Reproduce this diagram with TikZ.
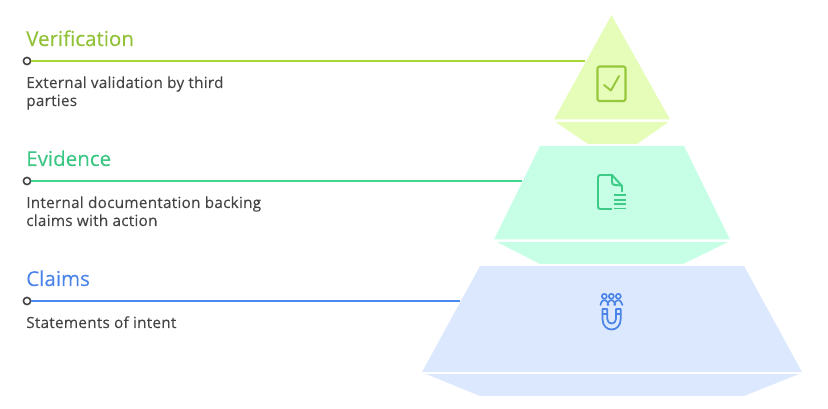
\documentclass[tikz,border=0pt]{standalone}
\usepackage{fontspec}
\setmainfont{Open Sans}[FakeBold=0.15]
\newfontfamily\descfont{Open Sans}[FakeBold=0.15,LetterSpace=1.6]
\definecolor{vfill}{HTML}{E6FDB9}
\definecolor{vline}{HTML}{A5D833}
\definecolor{vtext}{HTML}{90C136}
\definecolor{vicon}{HTML}{97C83C}
\definecolor{efill}{HTML}{C6FFE5}
\definecolor{eline}{HTML}{3FD58F}
\definecolor{etext}{HTML}{3CC683}
\definecolor{eicon}{HTML}{3ECB88}
\definecolor{cfill}{HTML}{DCE8FE}
\definecolor{cline}{HTML}{4B88F0}
\definecolor{ctext}{HTML}{4B84E8}
\definecolor{dtext}{HTML}{444444}
\tikzset{
  px/.style={x=0.75pt,y=-0.75pt},
  dotnode/.style={circle,draw=dtext,fill=white,line width=1.2pt,minimum size=5.4pt,inner sep=0pt},
  leader/.style={line width=1.65pt},
  titletext/.style={anchor=base west,inner sep=0pt,font=\fontsize{15.4}{18}\selectfont},
  desctext/.style={anchor=base west,inner sep=0pt,text=dtext,font=\descfont\fontsize{11.5}{14}\selectfont,align=left},
  icon/.style={line width=1.45pt,line cap=round,line join=round},
}
\begin{document}
\begin{tikzpicture}[px]
\useasboundingbox (0,0) rectangle (828,409);
% pyramid
\fill[vfill] (611.5,15) -- (670,119.5) -- (554,119.5) -- cycle;
\fill[vfill] (555.5,122) -- (668.5,122) -- (637,144) -- (588,144) -- cycle;
\fill[efill] (540,146) -- (684,146) -- (730,239.5) -- (494,239.5) -- cycle;
\fill[efill] (497,242) -- (728,242) -- (683,264) -- (540,264) -- cycle;
\fill[cfill] (480,266) -- (744,266) -- (802,372) -- (422,372) -- cycle;
\fill[cfill] (426,374) -- (799,374) -- (744,396) -- (480,396) -- cycle;
% leaders
\node[dotnode] (d1) at (27,61) {};
\node[dotnode] (d2) at (27,181) {};
\node[dotnode] (d3) at (27,301) {};
\coordinate (e1) at (585,61);
\coordinate (e2) at (522,181);
\coordinate (e3) at (460,301);
\draw[leader,vline] (d1) -- (e1);
\draw[leader,eline] (d2) -- (e2);
\draw[leader,cline] (d3) -- (e3);
% text
\node[titletext,text=vtext] (t1) at (26,46) {Verification};
\node[titletext,text=etext] (t2) at (26,166) {Evidence};
\node[titletext,text=ctext] (t3) at (26,286) {Claims};
\node[desctext] (a1) at (26,88) {External validation by third};
\node[desctext] (a2) at (26,106) {parties};
\node[desctext] (b1) at (26,208) {Internal documentation backing};
\node[desctext] (b2) at (26,226) {claims with action};
\node[desctext] (c1) at (26,328) {Statements of intent};
% check icon
\draw[icon,vicon,line width=1.6pt,rounded corners=1.5pt] (597.5,66.5) rectangle (625.5,101);
\draw[icon,vicon] (604,85) -- (611,90.5) -- (619,76);
% document icon
\draw[icon,eicon] (611.5,209) -- (600.5,209) .. controls (598.5,209) and (598,208) .. (598,206.5) -- (598,177.5) .. controls (598,175.5) and (599,175) .. (600.5,175) -- (612,175) -- (622,186) -- (622,191.5);
\draw[icon,eicon] (612,175) -- (612,182) .. controls (612,184) and (613,185) .. (615,185) -- (622,185.5);
\draw[icon,eicon,line cap=butt] (614,195) -- (626,195) (614,199.7) -- (626,199.7) (614,204.2) -- (626,204.2) (614,208.5) -- (626,208.5);
% magnet icon
\draw[icon,ctext,line width=1.2pt] (604.3,296.3) circle (2.5) (611.3,296.3) circle (2.5) (618.3,296.3) circle (2.5);
\draw[icon,ctext,line width=1.2pt] (600.5,305) .. controls (601,301.5) and (603,300) .. (604.5,300) .. controls (606,300) and (608,302) .. (608.7,305);
\draw[icon,ctext,line width=1.2pt] (607.5,305) .. controls (608,301.5) and (610,300) .. (611.3,300) .. controls (612.8,300) and (614.5,301.5) .. (615.2,305);
\draw[icon,ctext,line width=1.2pt] (614.2,305) .. controls (615,301.5) and (617,300) .. (618.3,300) .. controls (620,300) and (621.5,302) .. (622.5,305);
\draw[icon,ctext,line width=1.3pt] (602.5,309) -- (607.3,309) -- (607.3,319) .. controls (607.3,325) and (616,325) .. (616,319) -- (616,309) -- (620.7,309) -- (620.7,319) .. controls (620.7,333) and (602.5,333) .. (602.5,319) -- cycle;
\draw[icon,ctext,line width=1.2pt] (602.5,314) -- (607.3,314) (616,314) -- (620.7,314);
\end{tikzpicture}
\end{document}
